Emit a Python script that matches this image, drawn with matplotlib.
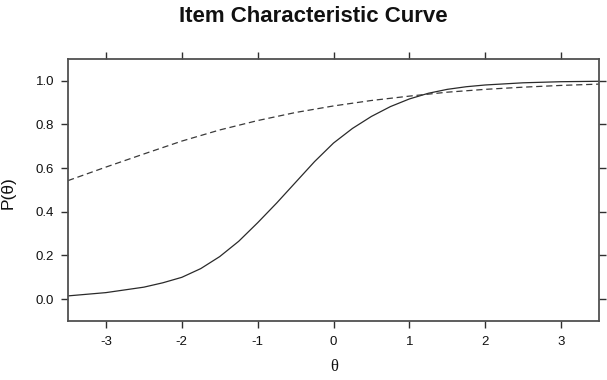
import matplotlib
matplotlib.use("Agg")
import matplotlib.pyplot as plt

# Data
theta_solid = [-3.5, -3.0, -2.5, -2.25, -2.0, -1.75, -1.5, -1.25, -1.0, -0.75, -0.5, -0.25,
               0.0, 0.25, 0.5, 0.75, 1.0, 1.25, 1.5, 1.75, 2.0, 2.5, 3.0, 3.5]
p_solid = [0.015, 0.030, 0.055, 0.075, 0.100, 0.140, 0.195, 0.265, 0.350, 0.440, 0.535, 0.630,
           0.715, 0.782, 0.837, 0.882, 0.917, 0.943, 0.961, 0.973, 0.981, 0.991, 0.996, 0.998]

theta_dashed = [-3.5, -3.0, -2.5, -2.0, -1.5, -1.0, -0.5, 0.0, 0.5, 1.0, 1.5, 2.0, 2.5, 3.0, 3.5]
p_dashed = [0.543, 0.605, 0.665, 0.724, 0.775, 0.818, 0.855, 0.885, 0.910, 0.930,
            0.948, 0.961, 0.971, 0.979, 0.985]

x_ticks = [-3, -2, -1, 0, 1, 2, 3]
y_ticks = [0.0, 0.2, 0.4, 0.6, 0.8, 1.0]
y_tick_labels = ["0.0", "0.2", "0.4", "0.6", "0.8", "1.0"]

title = "Item Characteristic Curve"
xlabel = "θ"
ylabel = "P(θ)"

W, H = 607, 380
fig = plt.figure(figsize=(W / 100, H / 100), dpi=100)
ax = fig.add_axes([68 / W, 1 - 321 / H, (599 - 68) / W, (321 - 59) / H])

frame_col = "#505050"
line_col = "#2a2a2a"

ax.plot(theta_solid, p_solid, color=line_col, lw=0.9, solid_capstyle="butt")
ax.plot(theta_dashed, p_dashed, color="#3a3a3a", lw=0.9, linestyle=(0, (5, 3)))

ax.set_xlim(-3.5, 3.5)
ax.set_ylim(-0.1, 1.1)

for s in ax.spines.values():
    s.set_color(frame_col)
    s.set_linewidth(1.3)

ax.set_xticks(x_ticks)
ax.set_xticklabels([str(t) for t in x_ticks])
ax.set_yticks(y_ticks)
ax.set_yticklabels(y_tick_labels)
ax.tick_params(axis="both", direction="out", length=5, width=1.0, color="#303030",
               labelsize=9.5, labelcolor="#111111",
               top=True, right=True, labeltop=False, labelright=False)
ax.tick_params(axis="x", pad=6)
ax.tick_params(axis="y", pad=5)
for lab in ax.get_xticklabels() + ax.get_yticklabels():
    lab.set_family(["Liberation Sans", "DejaVu Sans"])

fig.text(313 / W, 1 - 16 / H, title, ha="center", va="center",
         fontsize=16, fontweight="bold",
         family=["Liberation Sans", "DejaVu Sans"], color="#111111")
fig.text(334 / W, 1 - 367 / H, xlabel, ha="center", va="center", fontsize=12,
         family=["Liberation Serif", "DejaVu Serif"], color="#111111")
fig.text(8 / W, 1 - 193 / H, ylabel, ha="center", va="center", fontsize=12.5,
         rotation=90, family=["Liberation Sans", "DejaVu Sans"], color="#111111")

fig.savefig("out.png", dpi=100)
